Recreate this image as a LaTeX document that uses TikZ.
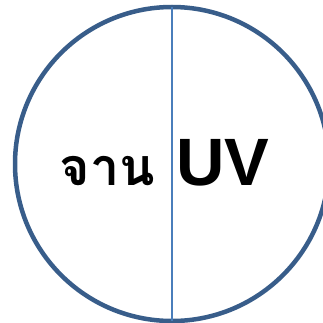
\documentclass[tikz,border=0pt]{standalone}
\usepackage{fontspec}
\setmainfont{Liberation Sans}
\newfontfamily\thaifont[Script=Thai]{Loma}
\usetikzlibrary{positioning}
\definecolor{rimblue}{RGB}{56,93,138}
\definecolor{lineblue}{RGB}{74,126,187}

\begin{document}
\begin{tikzpicture}[x=1pt,y=1pt,
    dish/.style={circle,draw=rimblue,line width=4.5pt,minimum size=314pt,inner sep=0pt,outer sep=0pt},
    label/.style={inner sep=0pt,text=black}]
  \useasboundingbox (0,0) rectangle (323,322);
  % the dish
  \node[dish] (plate) at (172,158) {};
  % dividing line
  \draw[lineblue,line width=1.3pt] (plate.north) -- (plate.south);
  % words on each half
  \node[label,anchor=base east] (thai) at (155,137) {\thaifont\bfseries\fontsize{52}{60}\selectfont จาน};
  \node[label,anchor=base west] (uv) at (176,137) {\bfseries\fontsize{67}{76}\selectfont UV};
\end{tikzpicture}
\end{document}
